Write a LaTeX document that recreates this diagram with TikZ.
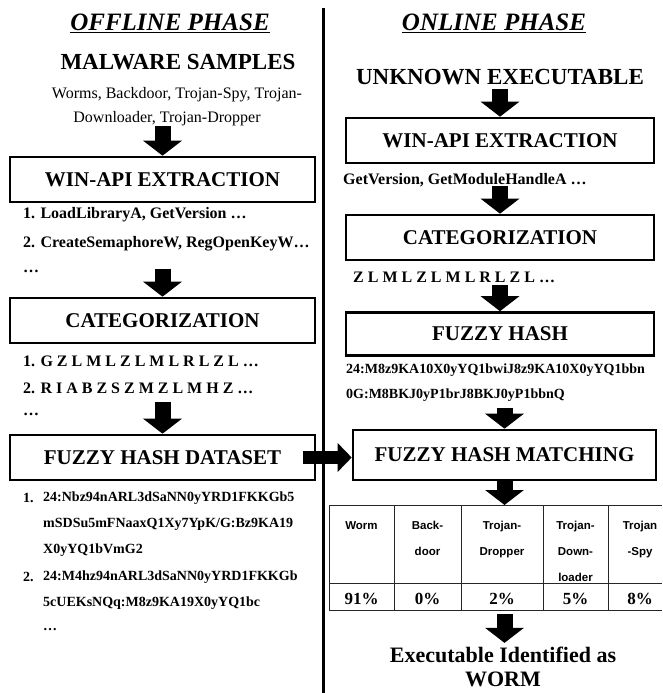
\documentclass[tikz,border=0pt]{standalone}
\usepackage{fontspec}
\setmainfont{Liberation Serif}
\newfontfamily\cellfont{Liberation Sans}
\usetikzlibrary{arrows.meta, positioning}

\tikzset{
  phase/.style={inner sep=0pt, font=\fontsize{25}{25}\selectfont\bfseries\itshape},
  heading/.style={inner sep=0pt, font=\fontsize{23}{25}\selectfont\bfseries},
  stage/.style={draw, line width=2.6pt, minimum width=305pt, minimum height=45pt,
    inner sep=0pt, font=\fontsize{21}{21}\selectfont\bfseries},
  listline/.style={anchor=west, inner sep=0pt, font=\fontsize{16}{16}\selectfont},
  apiline/.style={anchor=west, inner sep=0pt, font=\fontsize{16}{16}\selectfont\bfseries},
  hashline/.style={anchor=west, inner sep=0pt, font=\fontsize{14}{14}\selectfont\bfseries},
  fatarrow/.style={line width=16pt, -{Triangle[length=15pt, width=38pt]}},
  sidearrow/.style={line width=13pt, -{Triangle[length=14pt, width=28pt]}},
  cellrule/.style={line width=0.8pt, black!85},
  cell/.style={anchor=north, align=center, inner sep=0pt,
    font=\cellfont\fontsize{11.5}{26}\selectfont\bfseries},
  pct/.style={inner sep=0pt, font=\fontsize{17}{17}\selectfont\bfseries}
}

\begin{document}
\begin{tikzpicture}[x=1pt, y=-1pt]
  \useasboundingbox (0,0) rectangle (662,693);

  % divider
  \draw[line width=3pt] (323,8) -- (323,693);

  % offline phase
  \node[phase] (offline) at (170,23) {\underline{OFFLINE PHASE}};
  \node[heading] (samples) at (178,62) {MALWARE SAMPLES};
  \node[listline, anchor=center] (samplesA) at (177,95) {Worms, Backdoor, Trojan-Spy, Trojan-};
  \node[listline, anchor=center] (samplesB) at (167,119) {Downloader, Trojan-Dropper};

  \node[stage] (apiL) at (162.5,179.5) {WIN-API EXTRACTION};
  \draw[fatarrow] (samplesB.south -| apiL.north) -- (apiL.north);
  \node[apiline] (apiL1) at (23,215) {1. LoadLibraryA, GetVersion …};
  \node[apiline] (apiL2) at (23,244) {2. CreateSemaphoreW, RegOpenKeyW…};
  \node[apiline] (apiL3) at (23,271) {…};

  \node[stage] (catL) at (162.5,320.5) {CATEGORIZATION};
  \draw[fatarrow] ([yshift=28pt]catL.north) -- (catL.north);
  \node[apiline] (catL1) at (23,361) {1. G Z L M L Z L M L R L Z L …};
  \node[apiline] (catL2) at (23,388) {2. R I A B Z S Z M Z L M H Z …};
  \node[apiline] (catL3) at (23,414) {…};

  \node[stage] (fhd) at (162.5,457.5) {FUZZY HASH DATASET};
  \draw[fatarrow] ([yshift=32pt]fhd.north) -- (fhd.north);
  \node[hashline] (no1) at (23,498) {1.};
  \node[hashline] (hashA) at (43,498) {24:Nbz94nARL3dSaNN0yYRD1FKKGb5};
  \node[hashline] (hashB) at (43,524) {mSDSu5mFNaaxQ1Xy7YpK/G:Bz9KA19};
  \node[hashline] (hashC) at (43,550) {X0yYQ1bVmG2};
  \node[hashline] (no2) at (23,577) {2.};
  \node[hashline] (hashD) at (43,577) {24:M4hz94nARL3dSaNN0yYRD1FKKGb};
  \node[hashline] (hashE) at (43,603) {5cUEKsNQq:M8z9KA19X0yYQ1bc};
  \node[hashline] (hashF) at (43,630) {…};

  % online phase
  \node[phase] (online) at (494,23) {\underline{ONLINE PHASE}};
  \node[heading] (unknown) at (500,77) {UNKNOWN EXECUTABLE};

  \node[stage, minimum width=308pt] (apiR) at (500,140.5) {WIN-API EXTRACTION};
  \draw[fatarrow] ([yshift=28pt]apiR.north) -- (apiR.north);
  \node[apiline] (apiR1) at (343,180) {GetVersion, GetModuleHandleA …};

  \node[stage, minimum width=308pt] (catR) at (500,237.5) {CATEGORIZATION};
  \draw[fatarrow] ([yshift=28pt]catR.north) -- (catR.north);
  \node[apiline] (catR1) at (353,277) {Z L M L Z L M L R L Z L …};

  \node[stage, minimum width=308pt, minimum height=43pt] (fh) at (500,334) {FUZZY HASH};
  \draw[fatarrow] ([yshift=26pt]fh.north) -- (fh.north);
  \node[hashline] (fhA) at (346,370) {24:M8z9KA10X0yYQ1bwiJ8z9KA10X0yYQ1bbn};
  \node[hashline] (fhB) at (346,395) {0G:M8BKJ0yP1brJ8BKJ0yP1bbnQ};

  \node[stage, minimum width=303pt, minimum height=50pt] (fhm) at (504.5,455) {FUZZY HASH MATCHING};
  \draw[fatarrow] ([yshift=21pt]fhm.north) -- (fhm.north);
  \draw[sidearrow] ([xshift=-13pt]fhd.east) -- (fhd.east -| fhm.west);

  % result table
  \coordinate (tabtop) at (504.5,505);
  \draw[fatarrow] (fhm.south) -- (tabtop);
  \draw[cellrule] (329,505) -- (662,505);
  \draw[cellrule] (329,583) -- (662,583);
  \draw[cellrule] (329,610) -- (662,610);
  \draw[cellrule] (329,505) -- (329,610);
  \draw[cellrule] (394,505) -- (394,610);
  \draw[cellrule] (461,505) -- (461,610);
  \draw[cellrule] (543,505) -- (543,610);
  \draw[cellrule] (608,505) -- (608,610);

  \node[cell] (hWorm) at (361.5,521) {Worm};
  \node[cell] (hBack) at (427.5,521) {Back-\\door};
  \node[cell] (hDrop) at (502,521) {Trojan-\\Dropper};
  \node[cell] (hDown) at (575.5,521) {Trojan-\\Down-\\loader};
  \node[cell] (hSpy) at (640,521) {Trojan\\-Spy};

  \node[pct] (pWorm) at (361.5,599) {91\%};
  \node[pct] (pBack) at (427.5,599) {0\%};
  \node[pct] (pDrop) at (502,599) {2\%};
  \node[pct] (pDown) at (575.5,599) {5\%};
  \node[pct] (pSpy) at (640,599) {8\%};

  % verdict
  \node[heading, align=center, font=\fontsize{22}{24}\selectfont\bfseries] (verdict) at (503,667) {Executable Identified as\\WORM};
  \draw[fatarrow] ([yshift=33pt]verdict.north -| tabtop) -- ([yshift=4pt]verdict.north -| tabtop);
\end{tikzpicture}
\end{document}
